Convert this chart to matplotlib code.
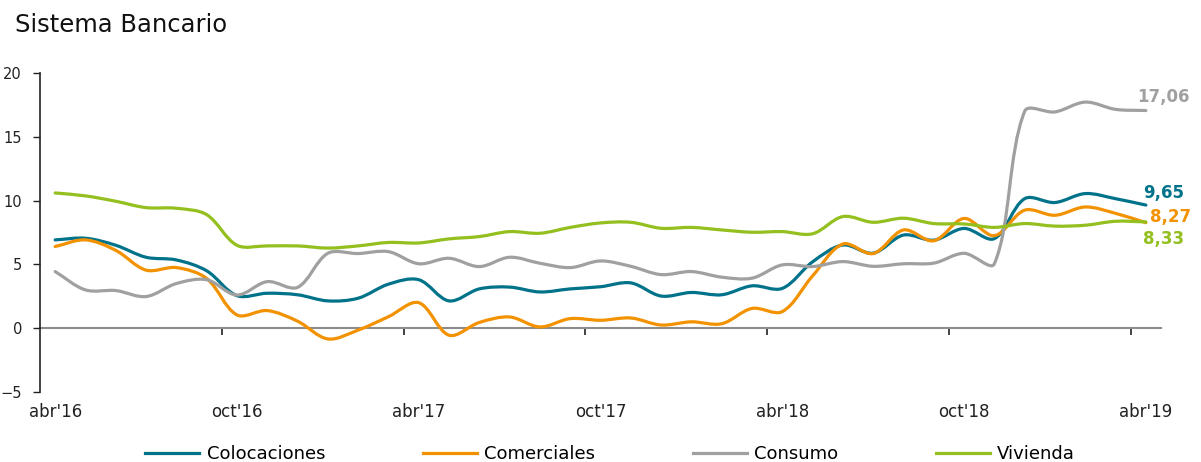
import numpy as np
import matplotlib
matplotlib.use("Agg")
import matplotlib.pyplot as plt
from matplotlib.path import Path
from matplotlib.patches import PathPatch
from matplotlib.lines import Line2D

# Monthly categories, abr'16 .. abr'19
month_names = ["abr", "may", "jun", "jul", "ago", "sep",
               "oct", "nov", "dic", "ene", "feb", "mar"]
start_year = 16
months = []
for k in range(37):
    m = month_names[k % 12]
    yr = start_year + (k + 3) // 12
    months.append(f"{m}'{yr}")

colocaciones = [6.92, 7.05, 6.50, 5.56, 5.35, 4.50, 2.55, 2.74, 2.62, 2.14,
                2.35, 3.45, 3.80, 2.14, 3.08, 3.22, 2.84, 3.08, 3.25, 3.55,
                2.52, 2.80, 2.62, 3.32, 3.12, 5.20, 6.52, 5.88, 7.30, 6.90,
                7.82, 7.02, 10.15, 9.85, 10.55, 10.15, 9.65]
comerciales = [6.40, 6.92, 6.10, 4.55, 4.75, 3.90, 1.04, 1.38, 0.55, -0.84,
               -0.15, 0.90, 2.00, -0.55, 0.45, 0.88, 0.10, 0.75, 0.62, 0.80,
               0.25, 0.50, 0.35, 1.55, 1.30, 4.10, 6.60, 5.85, 7.70, 6.85,
               8.60, 7.25, 9.25, 8.85, 9.50, 9.00, 8.27]
consumo = [4.44, 3.00, 2.95, 2.48, 3.50, 3.80, 2.60, 3.65, 3.20, 5.87,
           5.85, 6.00, 5.05, 5.48, 4.83, 5.56, 5.09, 4.75, 5.27, 4.85,
           4.20, 4.44, 4.00, 3.92, 4.96, 4.83, 5.22, 4.85, 5.05, 5.10,
           5.87, 5.05, 17.00, 16.95, 17.72, 17.15, 17.06]
vivienda = [10.60, 10.37, 9.95, 9.45, 9.40, 8.90, 6.50, 6.45, 6.45, 6.28,
            6.45, 6.72, 6.68, 7.00, 7.18, 7.57, 7.44, 7.90, 8.25, 8.30,
            7.83, 7.90, 7.70, 7.52, 7.57, 7.40, 8.75, 8.30, 8.62, 8.20,
            8.17, 7.90, 8.20, 8.00, 8.07, 8.38, 8.33]

series_names = ["Colocaciones", "Comerciales", "Consumo", "Vivienda"]
series_values = [colocaciones, comerciales, consumo, vivienda]
series_colors = ["#00738A", "#F39200", "#A0A0A0", "#93C01F"]
# offsets (points) of the end-value labels
label_offsets = [(-2, 9), (3, 4), (-6, 10), (-2, -12)]

y_ticks = [-5, 0, 5, 10, 15, 20]
y_min, y_max = -5, 20


def smooth_path(xs, ys, sx, sy):
    """Cubic Bezier path through the points.

    Tangents follow the neighbouring points, and each control arm is
    weighted by the on-screen length of its own segment (sx, sy are
    pixels per data unit), which keeps steep jumps from overshooting.
    """
    pts = np.column_stack([xs, ys]).astype(float)
    n = len(pts)
    scale = np.array([sx, sy])

    def seg_len(a, b):
        return np.hypot(*((b - a) * scale))

    out_arm = np.zeros_like(pts)
    in_arm = np.zeros_like(pts)
    for i in range(n):
        prev_p = pts[max(i - 1, 0)]
        next_p = pts[min(i + 1, n - 1)]
        d_prev = seg_len(prev_p, pts[i])
        d_next = seg_len(pts[i], next_p)
        tot = d_prev + d_next
        if tot == 0:
            continue
        tangent = next_p - prev_p
        in_arm[i] = tangent * (d_prev / tot) / 3.0
        out_arm[i] = tangent * (d_next / tot) / 3.0

    verts = [tuple(pts[0])]
    codes = [Path.MOVETO]
    for i in range(n - 1):
        c1 = pts[i] + out_arm[i]
        c2 = pts[i + 1] - in_arm[i + 1]
        verts += [tuple(c1), tuple(c2), tuple(pts[i + 1])]
        codes += [Path.CURVE4] * 3
    return Path(verts, codes)


plt.rcParams["font.family"] = ["DejaVu Sans"]

fig_w, fig_h = 1201, 462
fig = plt.figure(figsize=(fig_w / 100, fig_h / 100), dpi=100)
ax_rect = [40 / fig_w, 70 / fig_h, 1121 / fig_w, 319 / fig_h]
ax = fig.add_axes(ax_rect)

x = np.arange(len(months))
ax.set_xlim(-0.5, len(months) - 0.5)
ax.set_ylim(y_min, y_max)

px_per_x = ax_rect[2] * fig_w / len(months)
px_per_y = ax_rect[3] * fig_h / (y_max - y_min)

lw = 2.3
for name, vals, col, off in zip(series_names, series_values, series_colors, label_offsets):
    patch = PathPatch(smooth_path(x, vals, px_per_x, px_per_y), facecolor="none",
                      edgecolor=col, lw=lw, capstyle="round", joinstyle="round",
                      zorder=3)
    ax.add_patch(patch)
    last = vals[-1]
    ax.annotate(f"{last:.2f}".replace(".", ","), xy=(x[-1], last),
                xytext=off, textcoords="offset points", color=col,
                fontsize=12, fontweight="bold", ha="left", va="center")

# category labels every six months
label_idx = list(range(0, len(months), 6))
ax.set_xticks(label_idx)
ax.set_xticklabels([months[i] for i in label_idx], fontsize=12)
ax.tick_params(axis="x", length=0, pad=8, colors="#222222")

ax.set_yticks(y_ticks)
ax.tick_params(axis="y", direction="out", length=5, width=1, pad=8,
               labelsize=10.5, colors="#222222")

for s in ["top", "right", "bottom"]:
    ax.spines[s].set_visible(False)
ax.spines["left"].set_color("#222222")
ax.spines["left"].set_linewidth(1.2)

# zero line with tick marks between category groups
zero_frac = (0 - y_min) / (y_max - y_min)
sec = ax.secondary_xaxis(zero_frac)
sec.set_xticks([i - 0.5 for i in range(6, len(months), 6)])
sec.set_xticklabels([])
sec.spines["bottom"].set_color("#8C8C8C")
sec.spines["bottom"].set_linewidth(1.5)
sec.tick_params(axis="x", direction="out", length=5, width=1.3, colors="#333333")

fig.text(15 / fig_w, 1 - 32 / fig_h, "Sistema Bancario", fontsize=17.5,
         color="#111111", va="baseline", ha="left")

handles = [Line2D([], [], color=c, lw=lw) for c in series_colors]
fig.legend(handles, series_names, loc="center", ncol=4,
           bbox_to_anchor=(0.508, 0.017), frameon=False, fontsize=13,
           handlelength=3.0, handletextpad=0.4, columnspacing=5.4)

fig.savefig("out.png", dpi=100)
